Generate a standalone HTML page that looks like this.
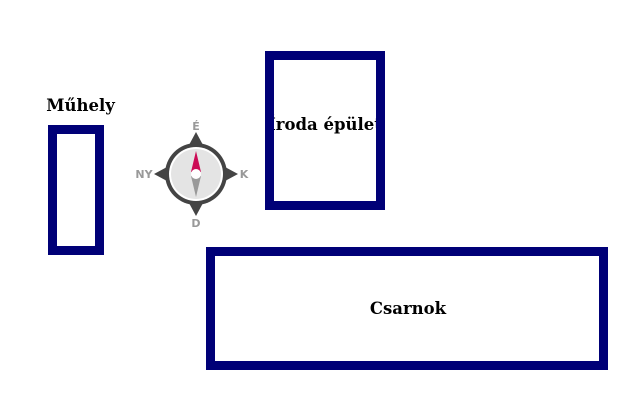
<!DOCTYPE html>
<html><head><meta charset="utf-8"><style>
html,body{margin:0;padding:0;background:#fff;width:640px;height:402px;overflow:hidden}
</style></head><body>
<svg width="640" height="402" viewBox="0 0 640 402" xmlns="http://www.w3.org/2000/svg">
<g font-family="'DejaVu Serif','Liberation Serif',serif" font-weight="bold" font-size="16.5" fill="#000">
<text x="80.5" y="111" text-anchor="middle">Műhely</text>
<text x="325" y="130" text-anchor="middle">Íroda épület</text>
<text x="408" y="314" text-anchor="middle">Csarnok</text>
</g>
<g fill="none" stroke="#000077" stroke-width="9">
<rect x="52.5" y="129.5" width="47" height="121"/>
<rect x="269.5" y="55.5" width="111" height="150"/>
<rect x="210.5" y="251.5" width="393" height="114"/>
</g>
<g>
<polygon points="196,132 203,145 189,145" fill="#444"/>
<polygon points="196,216 203,203 189,203" fill="#444"/>
<polygon points="238,174 225,167 225,181" fill="#444"/>
<polygon points="154,174 167,167 167,181" fill="#444"/>
<circle cx="196" cy="174" r="31" fill="#444"/>
<circle cx="196" cy="174" r="27" fill="#fff"/>
<circle cx="196" cy="174" r="25" fill="#e4e4e4"/>
<polygon points="196,151 201,172 191,172" fill="#cc0a55"/>
<polygon points="196,197 201,176 191,176" fill="#999"/>
<circle cx="196" cy="174" r="5" fill="#fff"/>
<g font-family="'DejaVu Sans','Liberation Sans',sans-serif" font-weight="bold" font-size="11" fill="#999" text-anchor="middle">
<text x="196" y="130">É</text>
<text x="196" y="227">D</text>
<text x="144" y="178">NY</text>
<text x="244" y="178">K</text>
</g>
</g>
</svg>
</body></html>
